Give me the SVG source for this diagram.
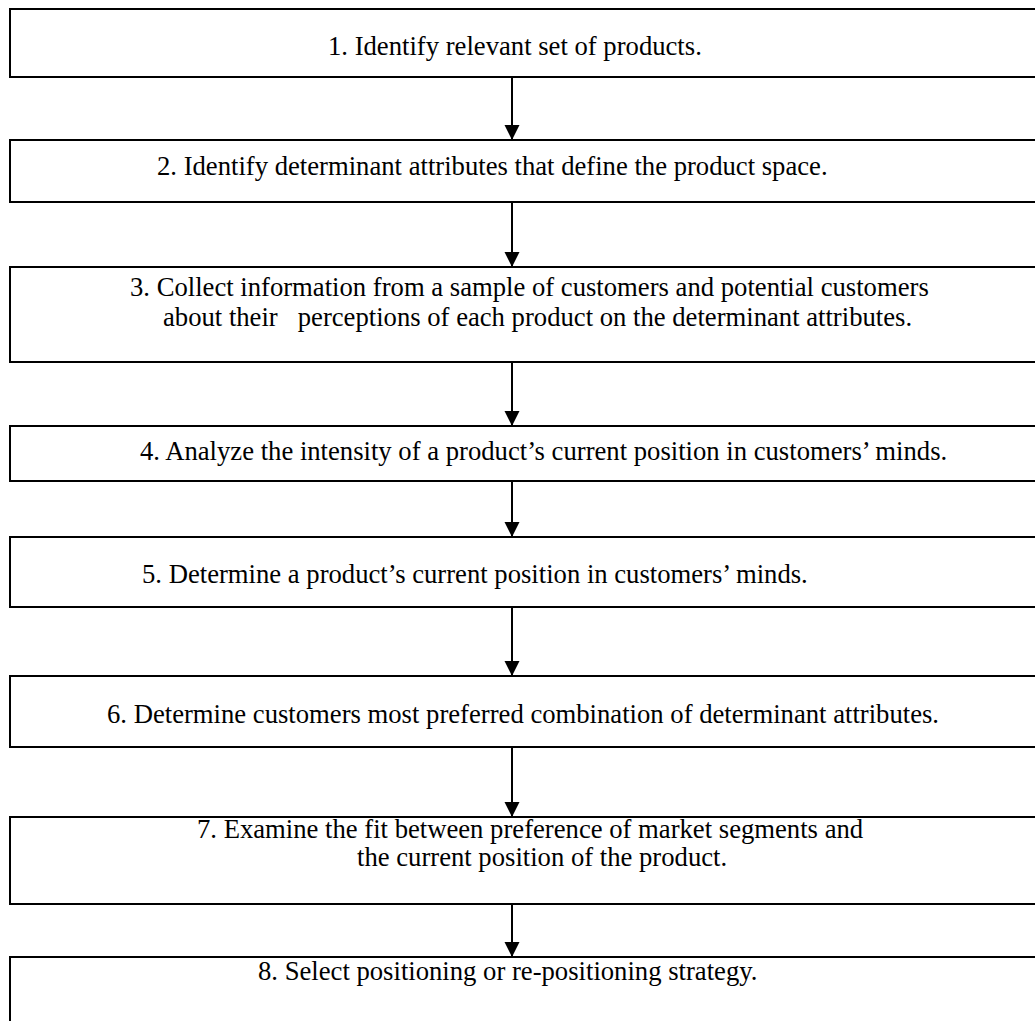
<svg xmlns="http://www.w3.org/2000/svg" width="1035" height="1021" viewBox="0 0 1035 1021">
<style>
.box{fill:#fff;stroke:#000;stroke-width:2}
.t{font-family:"Liberation Serif","Times New Roman",serif;font-size:26.67px;fill:#000}
.c{stroke:#000;stroke-width:2;fill:none}
</style>
<defs>
<marker id="ah" markerUnits="userSpaceOnUse" markerWidth="16" markerHeight="16" refX="15" refY="7.5" orient="auto">
<path d="M0,0 L15,7.5 L0,15 Z" fill="#000"/>
</marker>
</defs>
<rect width="1035" height="1021" fill="#fff"/>
<g id="connectors">
<line class="c" x1="512" y1="77" x2="512" y2="140" marker-end="url(#ah)"/>
<line class="c" x1="512" y1="202" x2="512" y2="267" marker-end="url(#ah)"/>
<line class="c" x1="512" y1="362" x2="512" y2="426" marker-end="url(#ah)"/>
<line class="c" x1="512" y1="481" x2="512" y2="537" marker-end="url(#ah)"/>
<line class="c" x1="512" y1="607" x2="512" y2="676" marker-end="url(#ah)"/>
<line class="c" x1="512" y1="747" x2="512" y2="817" marker-end="url(#ah)"/>
<line class="c" x1="512" y1="904" x2="512" y2="957" marker-end="url(#ah)"/>
</g>
<g id="n1"><rect class="box" x="10" y="9" width="1040" height="68"/><text class="t" x="328" y="55">1. Identify relevant set of products.</text></g>
<g id="n2"><rect class="box" x="10" y="140" width="1040" height="62"/><text class="t" x="157" y="175">2. Identify determinant attributes that define the product space.</text></g>
<g id="n3"><rect class="box" x="10" y="267" width="1040" height="95"/><text class="t" x="130" y="296">3. Collect information from a sample of customers and potential customers</text><text class="t" x="163" y="326" xml:space="preserve">about their   perceptions of each product on the determinant attributes.</text></g>
<g id="n4"><rect class="box" x="10" y="426" width="1040" height="55"/><text class="t" x="140" y="460">4. Analyze the intensity of a product’s current position in customers’ minds.</text></g>
<g id="n5"><rect class="box" x="10" y="537" width="1040" height="70"/><text class="t" x="142" y="583">5. Determine a product’s current position in customers’ minds.</text></g>
<g id="n6"><rect class="box" x="10" y="676" width="1040" height="71"/><text class="t" x="107" y="723">6. Determine customers most preferred combination of determinant attributes.</text></g>
<g id="n7"><rect class="box" x="10" y="817" width="1040" height="87"/><text class="t" x="197" y="838">7. Examine the fit between preference of market segments and</text><text class="t" x="357" y="866">the current position of the product.</text></g>
<g id="n8"><rect class="box" x="10" y="957" width="1040" height="80"/><text class="t" x="258" y="980">8. Select positioning or re-positioning strategy.</text></g>
</svg>
